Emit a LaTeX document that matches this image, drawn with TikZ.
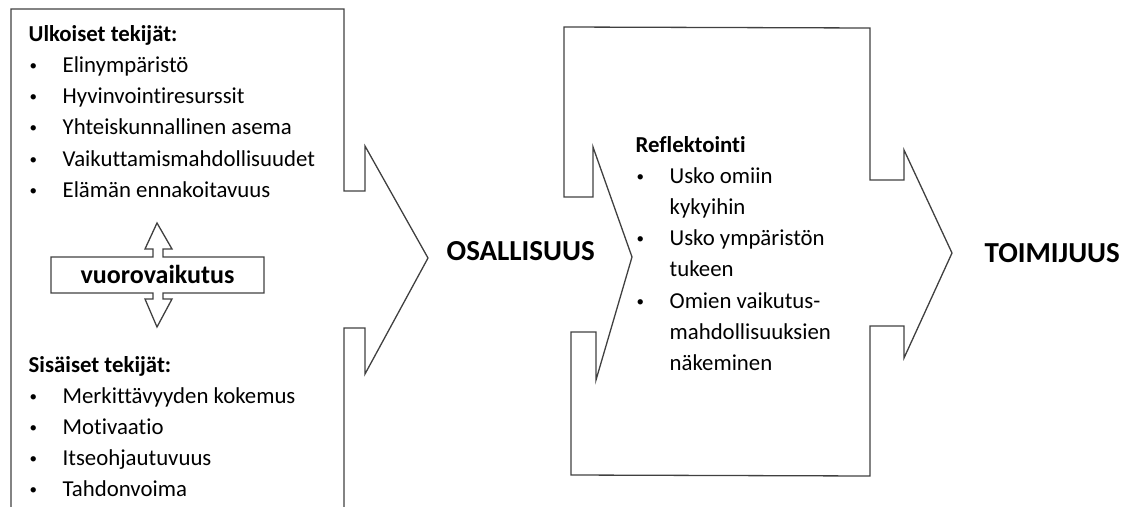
\documentclass[tikz,border=0pt]{standalone}
\usepackage{fontspec}
\setmainfont{Carlito}[Ligatures=NoCommon]
\usepackage{tikz}
\usetikzlibrary{positioning}
\definecolor{linegray}{HTML}{404040}
\def\itm{\makebox[35pt][l]{\hspace*{2pt}\raisebox{2pt}{\fontsize{15}{15}\selectfont\textbullet}}}
\def\ind{\hspace*{35pt}}

\begin{document}
\begin{tikzpicture}[x=1pt, y=-1pt, line width=1.3pt,
    font=\fontsize{22.8}{28}\selectfont,
    chevron/.style={draw=linegray, line join=miter},
    txt/.style={anchor=base west, inner sep=0pt},
    head/.style={txt, font=\fontsize{22.8}{28}\selectfont\bfseries},
    big/.style={anchor=base west, inner sep=0pt, font=\fontsize{29}{34}\selectfont\bfseries}]

    \useasboundingbox (0,0) rectangle (1132,506);

    % Shapes
    \draw[chevron] (11,508) -- (11,9) -- (344,9) -- (344,191) -- (365,191) -- (365,146)
        -- (428,258) -- (365,374) -- (365,328) -- (344,328) -- (344,508);
    \draw[chevron] (564,27) -- (870,28) -- (870,180) -- (904,180) -- (904,150)
        -- (952,253) -- (904,358) -- (904,326) -- (870,326) -- (870,476)
        -- (571,475) -- (571,332) -- (596,332) -- (596,380) -- (632,257)
        -- (593,147) -- (593,197) -- (564,197) -- cycle;
    \draw[chevron] (145,249) -- (157,223) -- (172,249) -- (163,249) -- (163,257)
        -- (264,257) -- (264,293) -- (163,293) -- (163,299) -- (172,299)
        -- (157,327) -- (145,299) -- (153,299) -- (153,293) -- (51,293)
        -- (51,257) -- (153,257) -- (153,249) -- cycle;

    % Nodes
    \node[head] (ulk) at (28,41) {Ulkoiset tekijät:};
    \foreach \t [count=\i] in {Elinympäristö, Hyvinvointiresurssit,
        Yhteiskunnallinen asema, Vaikuttamismahdollisuudet, Elämän ennakoitavuus}
        \node[txt] (ulk\i) at (27,41+31.3*\i) {\itm\t};

    \node[anchor=base, inner sep=0pt, font=\fontsize{26}{30}\selectfont\bfseries]
        (vuoro) at (157.5,283) {vuorovaikutus};

    \node[head] (sis) at (28,372) {Sisäiset tekijät:};
    \foreach \t [count=\i] in {Merkittävyyden kokemus, Motivaatio,
        Itseohjautuvuus, Tahdonvoima}
        \node[txt] (sis\i) at (27,372+31*\i) {\itm\t};

    \node[big] (osal) at (446,260) {OSALLISUUS};

    \node[head] (refl) at (635,152) {Reflektointi};
    \foreach \m/\t [count=\i] in {\itm/Usko omiin, \ind/kykyihin,
        \itm/Usko ympäristön, \ind/tukeen, \itm/Omien vaikutus-,
        \ind/mahdollisuuksien, \ind/näkeminen}
        \node[txt] (refl\i) at (634,152+31.2*\i) {\m\t};

    \node[big] (toim) at (984,262) {TOIMIJUUS};

\end{tikzpicture}
\end{document}
